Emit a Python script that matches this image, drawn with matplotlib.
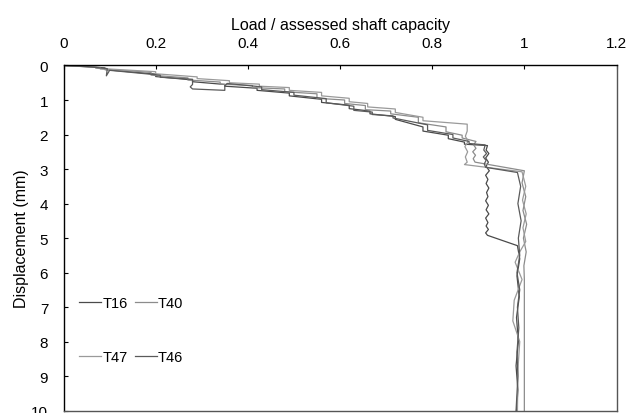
import matplotlib
matplotlib.use("Agg")
import matplotlib.pyplot as plt

plt.rcParams['font.family'] = ['Liberation Sans', 'DejaVu Sans']
plt.rcParams['font.size'] = 11

# (load / assessed shaft capacity, displacement mm)
T16 = [(0, 0), (0.06, 0.04), (0.09, 0.07), (0.09, 0.12), (0.20, 0.25), (0.20, 0.32),
       (0.28, 0.42), (0.28, 0.47), (0.35, 0.55), (0.35, 0.60), (0.42, 0.66), (0.42, 0.72),
       (0.49, 0.80), (0.49, 0.88), (0.56, 0.98), (0.56, 1.07), (0.62, 1.15), (0.62, 1.25),
       (0.665, 1.32), (0.665, 1.40), (0.72, 1.48), (0.72, 1.56), (0.78, 1.78), (0.78, 1.90),
       (0.835, 2.02), (0.835, 2.12), (0.87, 2.22), (0.87, 2.28), (0.92, 2.32),
       (0.917, 2.45), (0.923, 2.55), (0.916, 2.68), (0.922, 2.8), (0.917, 2.92),
       (0.924, 3.05), (0.916, 3.18), (0.921, 3.3), (0.917, 3.42), (0.923, 3.55),
       (0.918, 3.68), (0.921, 3.8), (0.916, 3.92), (0.922, 4.05), (0.917, 4.18),
       (0.923, 4.3), (0.916, 4.42), (0.921, 4.55), (0.917, 4.65), (0.922, 4.75),
       (0.916, 4.85), (0.92, 4.92), (0.985, 5.22), (0.99, 5.6), (0.984, 6.1),
       (0.989, 6.7), (0.983, 7.3), (0.987, 8.0), (0.982, 8.7), (0.986, 9.4), (0.983, 10.0)]

T40 = [(0, 0), (0.08, 0.06), (0.08, 0.10), (0.19, 0.20), (0.19, 0.28), (0.27, 0.36),
       (0.27, 0.42), (0.34, 0.48), (0.34, 0.54), (0.41, 0.58), (0.41, 0.64), (0.48, 0.68),
       (0.48, 0.76), (0.55, 0.82), (0.55, 0.95), (0.61, 1.00), (0.61, 1.10), (0.655, 1.16),
       (0.655, 1.28), (0.71, 1.32), (0.71, 1.40), (0.77, 1.50), (0.77, 1.66), (0.83, 1.78),
       (0.83, 1.92), (0.865, 2.02), (0.865, 2.10), (0.895, 2.20), (0.89, 2.3),
       (0.895, 2.4), (0.888, 2.5), (0.894, 2.6), (0.889, 2.7), (0.893, 2.8),
       (1.0, 3.05), (0.995, 3.4), (1.003, 3.8), (0.997, 4.2), (1.005, 4.6),
       (0.998, 5.0), (1.004, 5.4), (0.999, 5.8), (1.0, 6.2), (1.0, 10.0)]

T47 = [(0, 0), (0.07, 0.05), (0.07, 0.08), (0.20, 0.18), (0.20, 0.24), (0.29, 0.33),
       (0.29, 0.38), (0.36, 0.44), (0.36, 0.50), (0.425, 0.54), (0.425, 0.60), (0.49, 0.64),
       (0.49, 0.72), (0.56, 0.78), (0.56, 0.88), (0.62, 0.95), (0.62, 1.05), (0.66, 1.10),
       (0.66, 1.20), (0.72, 1.26), (0.72, 1.36), (0.78, 1.50), (0.78, 1.60), (0.876, 1.70),
       (0.876, 1.9), (0.872, 2.05), (0.878, 2.2), (0.871, 2.35), (0.877, 2.5),
       (0.872, 2.65), (0.876, 2.8), (0.87, 2.87), (0.995, 3.08), (1.003, 3.5),
       (0.996, 3.9), (1.004, 4.3), (0.997, 4.7), (1.003, 5.1), (0.99, 5.4),
       (0.98, 5.7), (0.995, 6.2), (0.978, 6.8), (0.975, 7.4), (0.99, 8.0),
       (0.986, 8.8), (0.985, 10.0)]

T46 = [(0, 0), (0.05, 0.03), (0.095, 0.09), (0.093, 0.30), (0.10, 0.14), (0.21, 0.28),
       (0.21, 0.34), (0.28, 0.40), (0.28, 0.55), (0.275, 0.62), (0.28, 0.68), (0.35, 0.72),
       (0.35, 0.60), (0.355, 0.52), (0.43, 0.62), (0.43, 0.70), (0.50, 0.78), (0.50, 0.86),
       (0.57, 0.96), (0.57, 1.08), (0.63, 1.18), (0.63, 1.30), (0.67, 1.35), (0.67, 1.42),
       (0.715, 1.46), (0.715, 1.52), (0.79, 1.72), (0.79, 1.88), (0.845, 2.00),
       (0.845, 2.10), (0.88, 2.20), (0.88, 2.26), (0.915, 2.30), (0.912, 2.45),
       (0.918, 2.55), (0.911, 2.65), (0.917, 2.75), (0.913, 2.85), (0.916, 2.95),
       (0.985, 3.10), (0.992, 3.5), (0.986, 4.0), (0.993, 4.5), (0.987, 5.0),
       (0.99, 5.5), (0.984, 6.0), (0.99, 6.5), (0.985, 7.0), (0.988, 7.6),
       (0.984, 8.3), (0.986, 9.0), (0.982, 10.0)]

series_names = ["T16", "T40", "T47", "T46"]
series_data = [T16, T40, T47, T46]
series_colors = ["#4a4a4a", "#8c8c8c", "#9a9a9a", "#5a5a5a"]

x_ticks = [0, 0.2, 0.4, 0.6, 0.8, 1, 1.2]
x_tick_labels = ["0", "0.2", "0.4", "0.6", "0.8", "1", "1.2"]
y_ticks = list(range(0, 11))

fig = plt.figure(figsize=(6.3, 4.14), dpi=100)
ax = fig.add_axes([0.1008, 0.0056, 0.8778, 0.8338])

lines = {}
for name, data, col in zip(series_names, series_data, series_colors):
    xs = [p[0] for p in data]
    ys = [p[1] for p in data]
    ln, = ax.plot(xs, ys, color=col, lw=0.9, label=name)
    lines[name] = ln

ax.set_xlim(0, 1.2)
ax.set_ylim(10, 0)
ax.xaxis.tick_top()
ax.xaxis.set_label_position('top')
ax.set_xticks(x_ticks)
ax.set_xticklabels(x_tick_labels)
ax.set_yticks(y_ticks)
ax.tick_params(axis='x', direction='in', length=3, width=0.8, pad=11, colors='#000000')
ax.tick_params(axis='y', direction='in', length=3, width=0.8, pad=11)
ax.set_xlabel("Load / assessed shaft capacity", labelpad=5, fontsize=11.5)
ax.set_ylabel("Displacement (mm)", labelpad=1.5, fontsize=11.5)

for s in ['top', 'left']:
    ax.spines[s].set_color('#000000')
    ax.spines[s].set_linewidth(1.0)
for s in ['right', 'bottom']:
    ax.spines[s].set_color('#555555')
    ax.spines[s].set_linewidth(1.0)

handles = [lines["T16"], lines["T47"], lines["T40"], lines["T46"]]
labels = ["T16", "T47", "T40", "T46"]
ax.legend(handles, labels, ncol=2, frameon=False, loc='center left',
          bbox_to_anchor=(0.004, 0.233), handlelength=1.5, handletextpad=0.1,
          columnspacing=0.5, labelspacing=2.75, borderpad=0.4, fontsize=10.5)

fig.savefig("out.png", dpi=100)
